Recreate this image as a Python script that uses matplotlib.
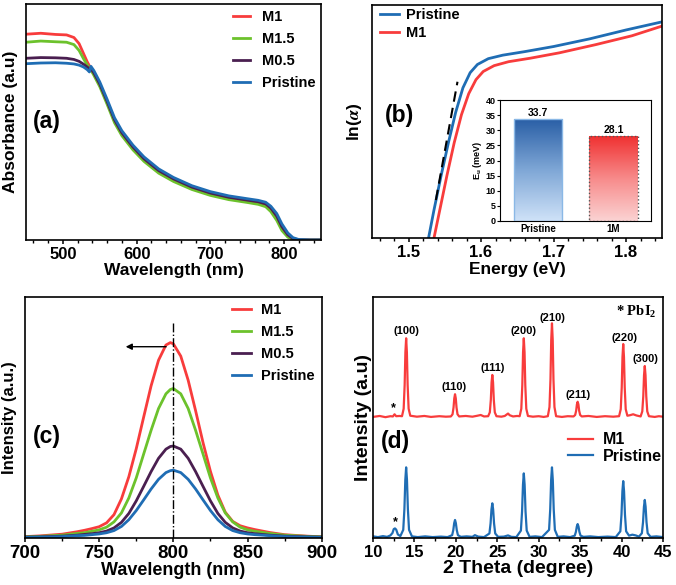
import numpy as np
import matplotlib
matplotlib.use('Agg')
import matplotlib.pyplot as plt
from matplotlib.ticker import MultipleLocator
from matplotlib.colors import LinearSegmentedColormap

plt.rcParams['font.family'] = ['Liberation Sans', 'DejaVu Sans']
plt.rcParams['font.weight'] = 'bold'
plt.rcParams['axes.labelweight'] = 'bold'
plt.rcParams['mathtext.fontset'] = 'stix'
plt.rcParams['axes.linewidth'] = 1.2

# colours
c_m1 = '#f83c3c'
c_m15 = '#6cc22c'
c_m05 = '#4a1f50'
c_pr = '#1f6db4'

# ---- (a) absorbance
wl_abs = [450, 470, 490, 505, 515, 522, 528, 533, 536, 538, 542, 550, 560, 570, 580, 595,
          610, 630, 650, 675, 700, 725, 750, 765, 775, 782, 790, 797, 805, 812, 820, 835, 850]
abs_m1 = [0.872, 0.876, 0.871, 0.869, 0.858, 0.832, 0.790, 0.755, 0.738, 0.728, 0.705, 0.658,
          0.583, 0.505, 0.450, 0.390, 0.340, 0.290, 0.255, 0.220, 0.195, 0.177, 0.165, 0.158,
          0.149, 0.130, 0.095, 0.050, 0.018, 0.004, 0.000, 0.000, 0.000]
abs_m15 = [0.838, 0.843, 0.840, 0.838, 0.828, 0.803, 0.768, 0.742, 0.728, 0.720, 0.698, 0.650,
           0.575, 0.497, 0.442, 0.382, 0.333, 0.283, 0.248, 0.214, 0.189, 0.171, 0.159, 0.151,
           0.141, 0.120, 0.083, 0.040, 0.012, 0.002, 0.000, 0.000, 0.000]
abs_m05 = [0.770, 0.773, 0.772, 0.770, 0.765, 0.757, 0.745, 0.733, 0.724, 0.726, 0.708, 0.661,
           0.587, 0.509, 0.454, 0.394, 0.344, 0.294, 0.259, 0.224, 0.199, 0.181, 0.169, 0.162,
           0.153, 0.135, 0.101, 0.056, 0.022, 0.006, 0.001, 0.000, 0.000]
abs_pr = [0.747, 0.750, 0.751, 0.749, 0.746, 0.741, 0.733, 0.722, 0.712, 0.736, 0.718, 0.670,
          0.596, 0.518, 0.463, 0.402, 0.352, 0.301, 0.265, 0.230, 0.205, 0.187, 0.175, 0.168,
          0.160, 0.143, 0.112, 0.068, 0.030, 0.010, 0.002, 0.000, 0.000]

# ---- (b) Urbach plot
e_pr = [1.524, 1.5275, 1.535, 1.545, 1.555, 1.565, 1.575, 1.585, 1.595, 1.61, 1.63, 1.66, 1.70, 1.75, 1.80, 1.85]
ln_pr = [-0.05, 0.0, 0.12, 0.27, 0.41, 0.54, 0.645, 0.71, 0.745, 0.77, 0.785, 0.80, 0.822, 0.855, 0.893, 0.928]
e_m1 = [1.531, 1.535, 1.543, 1.553, 1.563, 1.573, 1.583, 1.593, 1.603, 1.618, 1.638, 1.668, 1.708, 1.758, 1.808, 1.85]
ln_m1 = [-0.05, 0.0, 0.12, 0.27, 0.41, 0.53, 0.62, 0.68, 0.715, 0.74, 0.757, 0.772, 0.795, 0.83, 0.868, 0.91]
fit_e = [1.5377, 1.5675]
fit_ln = [0.164, 0.671]

eu_names = ['Pristine', '1M']
eu_vals = [33.7, 28.1]

# ---- (c) PL
wl_pl = [700, 710, 725, 735, 740, 745, 750, 755, 760, 765, 770, 775, 780, 785, 790, 795, 798,
         800, 805, 810, 815, 820, 825, 830, 835, 840, 845, 850, 855, 865, 875, 890, 900]
pl_m1 = [0.007, 0.010, 0.017, 0.027, 0.033, 0.040, 0.048, 0.064, 0.098, 0.163, 0.255, 0.371,
         0.502, 0.631, 0.737, 0.800, 0.810, 0.805, 0.754, 0.654, 0.528, 0.396, 0.277, 0.179,
         0.108, 0.070, 0.052, 0.043, 0.036, 0.024, 0.015, 0.009, 0.006]
pl_m15 = [0.006, 0.008, 0.013, 0.020, 0.023, 0.029, 0.035, 0.046, 0.068, 0.105, 0.167, 0.250,
          0.349, 0.447, 0.537, 0.598, 0.616, 0.620, 0.598, 0.537, 0.447, 0.349, 0.250, 0.167,
          0.105, 0.068, 0.046, 0.035, 0.029, 0.020, 0.013, 0.008, 0.006]
pl_m05 = [0.005, 0.006, 0.009, 0.013, 0.016, 0.019, 0.023, 0.030, 0.043, 0.066, 0.103, 0.155,
          0.215, 0.276, 0.331, 0.369, 0.380, 0.382, 0.369, 0.331, 0.276, 0.215, 0.155, 0.103,
          0.066, 0.043, 0.030, 0.023, 0.019, 0.013, 0.009, 0.006, 0.005]
pl_pr = [0.004, 0.005, 0.007, 0.011, 0.012, 0.015, 0.018, 0.023, 0.032, 0.049, 0.077, 0.115,
         0.159, 0.204, 0.244, 0.272, 0.280, 0.282, 0.272, 0.244, 0.204, 0.159, 0.115, 0.077,
         0.049, 0.032, 0.023, 0.018, 0.015, 0.011, 0.007, 0.005, 0.004]
pl_ref = 800
arrow_from = (797, 0.793)
arrow_to = (766, 0.793)

# ---- (d) XRD
tt_m1 = [10.0, 10.8, 11.5, 12.1, 12.4, 12.6, 12.8, 13.2, 13.5, 13.7, 13.82, 13.91, 14.0, 14.09,
         14.18, 14.3, 14.5, 15.3, 16.2, 17.0, 18.0, 18.8, 19.4, 19.6, 19.72, 19.81, 19.9, 19.99,
         20.08, 20.2, 20.4, 21.2, 22.0, 22.6, 23.0, 23.4, 23.9, 24.1, 24.22, 24.31, 24.4, 24.49,
         24.58, 24.7, 24.9, 25.5, 25.9, 26.1, 26.3, 26.5, 26.9, 27.4, 27.7, 27.9, 28.02, 28.11,
         28.2, 28.29, 28.38, 28.5, 28.7, 29.3, 30.0, 30.6, 31.1, 31.3, 31.42, 31.51, 31.6, 31.69,
         31.78, 31.9, 32.1, 32.8, 33.5, 34.2, 34.4, 34.52, 34.61, 34.7, 34.79, 34.88, 35.0, 35.2,
         36.0, 37.0, 38.0, 39.0, 39.7, 39.9, 40.02, 40.11, 40.2, 40.29, 40.38, 40.5, 40.7, 41.0,
         41.4, 41.8, 42.3, 42.5, 42.62, 42.71, 42.8, 42.89, 42.98, 43.1, 43.3, 44.0, 44.5, 45.0]
int_m1 = [50.3, 50.7, 50.2, 50.6, 50.5, 51.4, 50.6, 50.7, 50.6, 53.7, 63.5, 77.1, 82.9, 77.1,
          63.5, 53.7, 50.8, 50.4, 50.7, 50.3, 50.6, 50.4, 50.5, 51.4, 54.2, 58.0, 59.7, 58.0,
          54.2, 51.4, 50.5, 50.7, 50.4, 50.8, 51.1, 50.5, 50.6, 52.2, 57.4, 64.6, 67.7, 64.6,
          57.4, 52.2, 50.6, 50.4, 50.7, 51.2, 51.7, 51.0, 50.5, 50.7, 50.6, 53.7, 63.5, 77.1,
          82.9, 77.1, 63.5, 53.7, 50.7, 50.4, 50.6, 50.3, 50.6, 54.4, 65.9, 82.2, 89.1, 82.2,
          65.9, 54.4, 50.6, 50.3, 50.6, 50.5, 51.1, 52.9, 55.5, 56.6, 55.5, 52.9, 51.1, 50.5,
          50.7, 50.3, 50.6, 50.4, 50.6, 53.5, 62.5, 75.1, 80.5, 75.1, 62.5, 53.5, 50.8, 51.0,
          51.4, 50.9, 50.5, 52.6, 58.9, 67.6, 71.4, 67.6, 58.9, 52.6, 50.6, 50.3, 50.6, 50.4]
tt_pr = [10.0, 10.6, 11.2, 11.7, 12.1, 12.35, 12.5, 12.65, 12.8, 13.0, 13.3, 13.65, 13.79, 13.9,
         14.0, 14.1, 14.21, 14.35, 14.7, 15.4, 16.3, 17.2, 18.2, 19.0, 19.55, 19.69, 19.8, 19.9,
         20.0, 20.11, 20.25, 20.6, 21.3, 22.0, 22.3, 22.7, 23.4, 24.05, 24.19, 24.3, 24.4, 24.5,
         24.61, 24.75, 25.1, 25.8, 26.3, 26.7, 27.3, 27.85, 27.99, 28.1, 28.2, 28.3, 28.41, 28.55,
         28.9, 29.6, 30.4, 31.25, 31.39, 31.5, 31.6, 31.7, 31.81, 31.95, 32.3, 33.0, 33.8, 34.35,
         34.49, 34.6, 34.7, 34.8, 34.91, 35.05, 35.4, 36.2, 37.2, 38.3, 39.3, 39.85, 39.99, 40.1,
         40.2, 40.3, 40.41, 40.55, 40.9, 41.3, 41.7, 42.1, 42.45, 42.59, 42.7, 42.8, 42.9, 43.01,
         43.15, 43.5, 44.2, 45.0]
int_pr = [0.8, 0.5, 0.9, 0.6, 1.2, 2.2, 3.8, 4.1, 3.6, 1.6, 0.9, 3.5, 12.1, 24.2,
          29.4, 24.2, 12.1, 3.5, 0.8, 0.5, 0.8, 0.5, 0.7, 0.5, 1.3, 3.4, 6.3, 7.6,
          6.3, 3.4, 1.3, 0.6, 0.8, 0.6, 1.3, 0.7, 0.5, 2.0, 6.2, 12.0, 14.5, 12.0,
          6.2, 2.0, 0.6, 0.7, 1.2, 0.6, 0.5, 3.2, 11.1, 22.2, 26.9, 22.2, 11.1, 3.2,
          0.6, 0.8, 0.5, 3.5, 12.1, 24.2, 29.4, 24.2, 12.1, 3.5, 0.6, 0.8, 0.5, 1.1,
          2.7, 4.9, 5.9, 4.9, 2.7, 1.1, 0.6, 0.8, 0.5, 0.7, 0.5, 2.9, 9.8, 19.5,
          23.7, 19.5, 9.8, 2.9, 1.1, 1.5, 1.2, 0.7, 2.1, 6.7, 13.1, 15.9, 13.1, 6.7,
          2.1, 0.6, 0.8, 0.5]
hkl_labels = ['(100)', '(110)', '(111)', '(200)', '(210)', '(211)', '(220)', '(300)']
hkl_x = [14.0, 19.8, 24.4, 28.2, 31.6, 34.7, 40.3, 42.9]
hkl_y = [86.0, 62.8, 70.6, 85.8, 91.4, 59.3, 83.2, 74.5]
star_x = [12.5, 12.7]
star_y = [53.9, 6.6]

W, H = 676, 585
fig = plt.figure(figsize=(W / 100, H / 100), dpi=100)


def box(l, t, r, b):
    return [l / W, 1 - b / H, (r - l) / W, (b - t) / H]


def style(ax, major, minor, size=12):
    ax.xaxis.set_major_locator(MultipleLocator(major))
    ax.xaxis.set_minor_locator(MultipleLocator(minor))
    ax.tick_params(axis='x', which='major', direction='out', length=3, width=1.1,
                   labelsize=size, pad=2)
    ax.tick_params(axis='x', which='minor', direction='out', length=2, width=1)
    ax.tick_params(axis='y', which='both', left=False, labelleft=False)
    for lab in ax.get_xticklabels():
        lab.set_fontweight('bold')


lw = 2.0

# (a)
ax = fig.add_axes(box(26, 4, 321, 240))
ax.plot(wl_abs, abs_m1, color=c_m1, lw=lw, label='M1')
ax.plot(wl_abs, abs_m15, color=c_m15, lw=lw, label='M1.5')
ax.plot(wl_abs, abs_m05, color=c_m05, lw=lw, label='M0.5')
ax.plot(wl_abs, abs_pr, color=c_pr, lw=lw, label='Pristine')
ax.set_xlim(450, 850)
ax.set_ylim(0, 1)
style(ax, 100, 20)
ax.set_xlabel('Wavelength (nm)', fontsize=12.5, labelpad=1)
ax.set_ylabel('Absorbance (a.u)', fontsize=12.5, labelpad=6)
ax.legend(loc='upper left', bbox_to_anchor=(0.70, 0.975), frameon=False, fontsize=10.5,
          handlelength=1.2, handletextpad=0.8, labelspacing=0.55, borderpad=0, borderaxespad=0)
ax.text(0.024, 0.504, '(a)', transform=ax.transAxes, fontsize=16.5, fontweight='bold',
        va='center', ha='left')

# (b)
ax = fig.add_axes(box(372.3, 5, 662.3, 238.3))
ax.plot(e_pr, ln_pr, color=c_pr, lw=lw, label='Pristine')
ax.plot(e_m1, ln_m1, color=c_m1, lw=lw, label='M1')
ax.plot(fit_e, fit_ln, color='black', lw=1.5, ls=(0, (5, 3)))
ax.set_xlim(1.45, 1.85)
ax.set_ylim(0, 1)
style(ax, 0.1, 0.02)
ax.set_xlabel('Energy (eV)', fontsize=12.5, labelpad=1)
ax.set_ylabel(r'ln($\alpha$)', fontsize=12.5, labelpad=6)
ax.legend(loc='upper left', bbox_to_anchor=(0.025, 0.985), frameon=False, fontsize=10.5,
          handlelength=1.3, handletextpad=0.5, labelspacing=0.25, borderpad=0, borderaxespad=0)
ax.text(0.043, 0.528, '(b)', transform=ax.transAxes, fontsize=16.5, fontweight='bold',
        va='center', ha='left')

# inset bar chart
ins = fig.add_axes(box(500.3, 100, 651.3, 221))
pos = np.arange(len(eu_vals))
bw = 0.64
grads = [LinearSegmentedColormap.from_list('b', ['#cfe2f8', '#7fa7d6', '#2a5fa6']),
         LinearSegmentedColormap.from_list('r', ['#fbd3d3', '#f78a8a', '#f02f2f'])]
edges = ['#8ab8e6', '#555555']
estyles = ['-', ':']
bars = ins.bar(pos, eu_vals, width=bw, facecolor='none', zorder=3)
grad = np.linspace(0, 1, 256).reshape(-1, 1)
for b, cm, ec, es, v in zip(bars, grads, edges, estyles, eu_vals):
    x0 = b.get_x()
    im = ins.imshow(grad, cmap=cm, origin='lower', aspect='auto',
                    extent=[x0, x0 + b.get_width(), 0, b.get_height()], zorder=2)
    im.set_clip_path(b)
    b.set_edgecolor(ec)
    b.set_linestyle(es)
    b.set_linewidth(1.0)
    ins.text(b.get_x() + b.get_width() / 2, v + 0.4, f'{v}', ha='center', va='bottom',
             fontsize=7.5, fontweight='bold')
ins.set_xlim(-0.5, 1.5)
ins.set_ylim(0, 40)
ins.set_xticks(pos)
ins.set_xticklabels(eu_names, fontsize=7, fontweight='bold')
ins.yaxis.set_major_locator(MultipleLocator(5))
ins.tick_params(axis='y', labelsize=6.5, length=2.5, width=0.8, pad=1)
ins.tick_params(axis='x', length=0, pad=2)
for lab in ins.get_yticklabels():
    lab.set_fontweight('bold')
ins.set_ylabel(r'E$_\mathregular{u}$ (meV)', fontsize=6.5, labelpad=1)
for s in ins.spines.values():
    s.set_linewidth(0.8)

# (c)
ax = fig.add_axes(box(25, 296.7, 321.7, 538.3))
ax.plot(wl_pl, pl_m1, color=c_m1, lw=lw, label='M1')
ax.plot(wl_pl, pl_m15, color=c_m15, lw=lw, label='M1.5')
ax.plot(wl_pl, pl_m05, color=c_m05, lw=lw, label='M0.5')
ax.plot(wl_pl, pl_pr, color=c_pr, lw=lw, label='Pristine')
ax.axvline(pl_ref, ymax=0.9, color='black', lw=1, ls='-.')
ax.annotate('', xy=arrow_to, xytext=arrow_from,
            arrowprops=dict(arrowstyle='-|>', color='black', lw=1, mutation_scale=9))
ax.set_xlim(700, 900)
ax.set_ylim(0, 1)
style(ax, 50, 25, size=13.5)
ax.set_xlabel('Wavelength (nm)', fontsize=13, labelpad=0)
ax.set_ylabel('Intensity (a.u.)', fontsize=12, labelpad=6)
ax.legend(loc='upper left', bbox_to_anchor=(0.697, 0.975), frameon=False, fontsize=10.5,
          handlelength=1.3, handletextpad=0.7, labelspacing=0.55, borderpad=0, borderaxespad=0)
ax.text(0.027, 0.42, '(c)', transform=ax.transAxes, fontsize=16.5, fontweight='bold',
        va='center', ha='left')

# (d)
ax = fig.add_axes(box(373, 297, 663, 538.3))
ax.plot(tt_m1, int_m1, color=c_m1, lw=1.6, label='M1')
ax.plot(tt_pr, int_pr, color=c_pr, lw=1.6, label='Pristine')
for lab, x, y in zip(hkl_labels, hkl_x, hkl_y):
    ax.text(x, y, lab, ha='center', va='center', fontsize=8, fontweight='bold')
for x, y in zip(star_x, star_y):
    ax.text(x, y, '*', ha='center', va='center', fontsize=9, fontweight='bold')
ax.text(39.3, 93.8, r'* PbI$_\mathregular{2}$', family='Liberation Serif', fontsize=10.5,
        fontweight='bold', ha='left', va='center')
ax.set_xlim(10, 45)
ax.set_ylim(0, 100)
style(ax, 5, 2.5)
ax.set_xlabel('2 Theta (degree)', fontsize=14, labelpad=0)
ax.set_ylabel('Intensity (a.u)', fontsize=14, labelpad=1)
ax.legend(loc='upper left', bbox_to_anchor=(0.672, 0.44), frameon=False, fontsize=11.5,
          handlelength=1.6, handletextpad=0.6, labelspacing=0.1, borderpad=0, borderaxespad=0)
ax.text(0.028, 0.40, '(d)', transform=ax.transAxes, fontsize=16.5, fontweight='bold',
        va='center', ha='left')

fig.savefig('out.png', dpi=100)
